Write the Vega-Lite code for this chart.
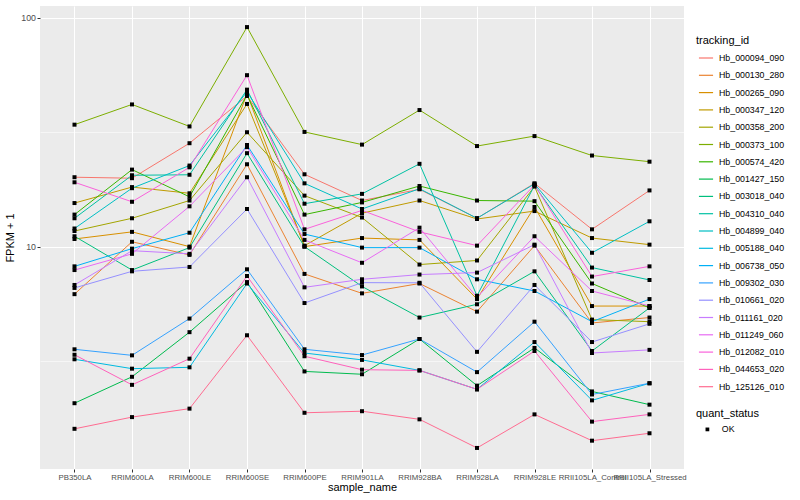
{
"$schema": "https://vega.github.io/schema/vega-lite/v6.json",
"width": 644, "height": 463,
"autosize": {"type": "none"},
"padding": {"left": 40, "top": 6, "right": 116, "bottom": 31},
"background": "white",
"config": {
  "view": {"fill": "#EBEBEB", "stroke": null},
  "font": "Liberation Sans",
  "axis": {"domain": false, "grid": true, "gridColor": "white", "labelFontSize": 8.8, "labelColor": "#4D4D4D", "tickColor": "#333333", "tickSize": 3, "labelPadding": 1.5, "titleFontSize": 11, "titleFontWeight": "normal", "titleColor": "black"},
  "legend": {"padding": 0, "titleFontSize": 11, "titleFontWeight": "normal", "titleColor": "black", "labelFontSize": 8.8, "labelColor": "black"}
},
"data": {"values": [
{"tracking_id":"Hb_000094_090","sample_name":"PB350LA","FPKM":20.1,"quant_status":"OK"},
{"tracking_id":"Hb_000094_090","sample_name":"RRIM600LA","FPKM":19.9,"quant_status":"OK"},
{"tracking_id":"Hb_000094_090","sample_name":"RRIM600LE","FPKM":28.3,"quant_status":"OK"},
{"tracking_id":"Hb_000094_090","sample_name":"RRIM600SE","FPKM":45.5,"quant_status":"OK"},
{"tracking_id":"Hb_000094_090","sample_name":"RRIM600PE","FPKM":20.7,"quant_status":"OK"},
{"tracking_id":"Hb_000094_090","sample_name":"RRIM901LA","FPKM":15.9,"quant_status":"OK"},
{"tracking_id":"Hb_000094_090","sample_name":"RRIM928BA","FPKM":17.8,"quant_status":"OK"},
{"tracking_id":"Hb_000094_090","sample_name":"RRIM928LA","FPKM":13.3,"quant_status":"OK"},
{"tracking_id":"Hb_000094_090","sample_name":"RRIM928LE","FPKM":18.9,"quant_status":"OK"},
{"tracking_id":"Hb_000094_090","sample_name":"RRII105LA_Control","FPKM":11.9,"quant_status":"OK"},
{"tracking_id":"Hb_000094_090","sample_name":"RRII105LA_Stressed","FPKM":17.6,"quant_status":"OK"},
{"tracking_id":"Hb_000130_280","sample_name":"PB350LA","FPKM":6.2,"quant_status":"OK"},
{"tracking_id":"Hb_000130_280","sample_name":"RRIM600LA","FPKM":10.5,"quant_status":"OK"},
{"tracking_id":"Hb_000130_280","sample_name":"RRIM600LE","FPKM":9.2,"quant_status":"OK"},
{"tracking_id":"Hb_000130_280","sample_name":"RRIM600SE","FPKM":22.9,"quant_status":"OK"},
{"tracking_id":"Hb_000130_280","sample_name":"RRIM600PE","FPKM":7.6,"quant_status":"OK"},
{"tracking_id":"Hb_000130_280","sample_name":"RRIM901LA","FPKM":6.25,"quant_status":"OK"},
{"tracking_id":"Hb_000130_280","sample_name":"RRIM928BA","FPKM":6.9,"quant_status":"OK"},
{"tracking_id":"Hb_000130_280","sample_name":"RRIM928LA","FPKM":5.2,"quant_status":"OK"},
{"tracking_id":"Hb_000130_280","sample_name":"RRIM928LE","FPKM":10.1,"quant_status":"OK"},
{"tracking_id":"Hb_000130_280","sample_name":"RRII105LA_Control","FPKM":4.64,"quant_status":"OK"},
{"tracking_id":"Hb_000130_280","sample_name":"RRII105LA_Stressed","FPKM":4.9,"quant_status":"OK"},
{"tracking_id":"Hb_000265_090","sample_name":"PB350LA","FPKM":10.8,"quant_status":"OK"},
{"tracking_id":"Hb_000265_090","sample_name":"RRIM600LA","FPKM":11.6,"quant_status":"OK"},
{"tracking_id":"Hb_000265_090","sample_name":"RRIM600LE","FPKM":10.0,"quant_status":"OK"},
{"tracking_id":"Hb_000265_090","sample_name":"RRIM600SE","FPKM":46.5,"quant_status":"OK"},
{"tracking_id":"Hb_000265_090","sample_name":"RRIM600PE","FPKM":10.0,"quant_status":"OK"},
{"tracking_id":"Hb_000265_090","sample_name":"RRIM901LA","FPKM":10.9,"quant_status":"OK"},
{"tracking_id":"Hb_000265_090","sample_name":"RRIM928BA","FPKM":10.7,"quant_status":"OK"},
{"tracking_id":"Hb_000265_090","sample_name":"RRIM928LA","FPKM":5.9,"quant_status":"OK"},
{"tracking_id":"Hb_000265_090","sample_name":"RRIM928LE","FPKM":14.9,"quant_status":"OK"},
{"tracking_id":"Hb_000265_090","sample_name":"RRII105LA_Control","FPKM":5.5,"quant_status":"OK"},
{"tracking_id":"Hb_000265_090","sample_name":"RRII105LA_Stressed","FPKM":5.5,"quant_status":"OK"},
{"tracking_id":"Hb_000347_120","sample_name":"PB350LA","FPKM":15.5,"quant_status":"OK"},
{"tracking_id":"Hb_000347_120","sample_name":"RRIM600LA","FPKM":18.2,"quant_status":"OK"},
{"tracking_id":"Hb_000347_120","sample_name":"RRIM600LE","FPKM":17.1,"quant_status":"OK"},
{"tracking_id":"Hb_000347_120","sample_name":"RRIM600SE","FPKM":42.0,"quant_status":"OK"},
{"tracking_id":"Hb_000347_120","sample_name":"RRIM600PE","FPKM":10.1,"quant_status":"OK"},
{"tracking_id":"Hb_000347_120","sample_name":"RRIM901LA","FPKM":14.0,"quant_status":"OK"},
{"tracking_id":"Hb_000347_120","sample_name":"RRIM928BA","FPKM":15.9,"quant_status":"OK"},
{"tracking_id":"Hb_000347_120","sample_name":"RRIM928LA","FPKM":13.2,"quant_status":"OK"},
{"tracking_id":"Hb_000347_120","sample_name":"RRIM928LE","FPKM":14.3,"quant_status":"OK"},
{"tracking_id":"Hb_000347_120","sample_name":"RRII105LA_Control","FPKM":10.9,"quant_status":"OK"},
{"tracking_id":"Hb_000347_120","sample_name":"RRII105LA_Stressed","FPKM":10.2,"quant_status":"OK"},
{"tracking_id":"Hb_000358_200","sample_name":"PB350LA","FPKM":11.7,"quant_status":"OK"},
{"tracking_id":"Hb_000358_200","sample_name":"RRIM600LA","FPKM":13.3,"quant_status":"OK"},
{"tracking_id":"Hb_000358_200","sample_name":"RRIM600LE","FPKM":15.9,"quant_status":"OK"},
{"tracking_id":"Hb_000358_200","sample_name":"RRIM600SE","FPKM":31.6,"quant_status":"OK"},
{"tracking_id":"Hb_000358_200","sample_name":"RRIM600PE","FPKM":16.7,"quant_status":"OK"},
{"tracking_id":"Hb_000358_200","sample_name":"RRIM901LA","FPKM":13.4,"quant_status":"OK"},
{"tracking_id":"Hb_000358_200","sample_name":"RRIM928BA","FPKM":8.35,"quant_status":"OK"},
{"tracking_id":"Hb_000358_200","sample_name":"RRIM928LA","FPKM":8.7,"quant_status":"OK"},
{"tracking_id":"Hb_000358_200","sample_name":"RRIM928LE","FPKM":18.3,"quant_status":"OK"},
{"tracking_id":"Hb_000358_200","sample_name":"RRII105LA_Control","FPKM":4.8,"quant_status":"OK"},
{"tracking_id":"Hb_000358_200","sample_name":"RRII105LA_Stressed","FPKM":4.7,"quant_status":"OK"},
{"tracking_id":"Hb_000373_100","sample_name":"PB350LA","FPKM":34.1,"quant_status":"OK"},
{"tracking_id":"Hb_000373_100","sample_name":"RRIM600LA","FPKM":41.8,"quant_status":"OK"},
{"tracking_id":"Hb_000373_100","sample_name":"RRIM600LE","FPKM":33.5,"quant_status":"OK"},
{"tracking_id":"Hb_000373_100","sample_name":"RRIM600SE","FPKM":91.0,"quant_status":"OK"},
{"tracking_id":"Hb_000373_100","sample_name":"RRIM600PE","FPKM":31.7,"quant_status":"OK"},
{"tracking_id":"Hb_000373_100","sample_name":"RRIM901LA","FPKM":27.9,"quant_status":"OK"},
{"tracking_id":"Hb_000373_100","sample_name":"RRIM928BA","FPKM":39.5,"quant_status":"OK"},
{"tracking_id":"Hb_000373_100","sample_name":"RRIM928LA","FPKM":27.5,"quant_status":"OK"},
{"tracking_id":"Hb_000373_100","sample_name":"RRIM928LE","FPKM":30.4,"quant_status":"OK"},
{"tracking_id":"Hb_000373_100","sample_name":"RRII105LA_Control","FPKM":25.0,"quant_status":"OK"},
{"tracking_id":"Hb_000373_100","sample_name":"RRII105LA_Stressed","FPKM":23.5,"quant_status":"OK"},
{"tracking_id":"Hb_000574_420","sample_name":"PB350LA","FPKM":13.8,"quant_status":"OK"},
{"tracking_id":"Hb_000574_420","sample_name":"RRIM600LA","FPKM":21.7,"quant_status":"OK"},
{"tracking_id":"Hb_000574_420","sample_name":"RRIM600LE","FPKM":16.5,"quant_status":"OK"},
{"tracking_id":"Hb_000574_420","sample_name":"RRIM600SE","FPKM":46.0,"quant_status":"OK"},
{"tracking_id":"Hb_000574_420","sample_name":"RRIM600PE","FPKM":13.8,"quant_status":"OK"},
{"tracking_id":"Hb_000574_420","sample_name":"RRIM901LA","FPKM":15.6,"quant_status":"OK"},
{"tracking_id":"Hb_000574_420","sample_name":"RRIM928BA","FPKM":18.4,"quant_status":"OK"},
{"tracking_id":"Hb_000574_420","sample_name":"RRIM928LA","FPKM":15.9,"quant_status":"OK"},
{"tracking_id":"Hb_000574_420","sample_name":"RRIM928LE","FPKM":15.8,"quant_status":"OK"},
{"tracking_id":"Hb_000574_420","sample_name":"RRII105LA_Control","FPKM":6.9,"quant_status":"OK"},
{"tracking_id":"Hb_000574_420","sample_name":"RRII105LA_Stressed","FPKM":5.4,"quant_status":"OK"},
{"tracking_id":"Hb_001427_150","sample_name":"PB350LA","FPKM":2.07,"quant_status":"OK"},
{"tracking_id":"Hb_001427_150","sample_name":"RRIM600LA","FPKM":2.70,"quant_status":"OK"},
{"tracking_id":"Hb_001427_150","sample_name":"RRIM600LE","FPKM":4.23,"quant_status":"OK"},
{"tracking_id":"Hb_001427_150","sample_name":"RRIM600SE","FPKM":7.0,"quant_status":"OK"},
{"tracking_id":"Hb_001427_150","sample_name":"RRIM600PE","FPKM":2.85,"quant_status":"OK"},
{"tracking_id":"Hb_001427_150","sample_name":"RRIM901LA","FPKM":2.77,"quant_status":"OK"},
{"tracking_id":"Hb_001427_150","sample_name":"RRIM928BA","FPKM":3.95,"quant_status":"OK"},
{"tracking_id":"Hb_001427_150","sample_name":"RRIM928LA","FPKM":2.47,"quant_status":"OK"},
{"tracking_id":"Hb_001427_150","sample_name":"RRIM928LE","FPKM":3.61,"quant_status":"OK"},
{"tracking_id":"Hb_001427_150","sample_name":"RRII105LA_Control","FPKM":2.33,"quant_status":"OK"},
{"tracking_id":"Hb_001427_150","sample_name":"RRII105LA_Stressed","FPKM":2.04,"quant_status":"OK"},
{"tracking_id":"Hb_003018_040","sample_name":"PB350LA","FPKM":11.1,"quant_status":"OK"},
{"tracking_id":"Hb_003018_040","sample_name":"RRIM600LA","FPKM":7.9,"quant_status":"OK"},
{"tracking_id":"Hb_003018_040","sample_name":"RRIM600LE","FPKM":9.9,"quant_status":"OK"},
{"tracking_id":"Hb_003018_040","sample_name":"RRIM600SE","FPKM":25.6,"quant_status":"OK"},
{"tracking_id":"Hb_003018_040","sample_name":"RRIM600PE","FPKM":10.0,"quant_status":"OK"},
{"tracking_id":"Hb_003018_040","sample_name":"RRIM901LA","FPKM":6.7,"quant_status":"OK"},
{"tracking_id":"Hb_003018_040","sample_name":"RRIM928BA","FPKM":4.9,"quant_status":"OK"},
{"tracking_id":"Hb_003018_040","sample_name":"RRIM928LA","FPKM":5.6,"quant_status":"OK"},
{"tracking_id":"Hb_003018_040","sample_name":"RRIM928LE","FPKM":7.8,"quant_status":"OK"},
{"tracking_id":"Hb_003018_040","sample_name":"RRII105LA_Control","FPKM":3.5,"quant_status":"OK"},
{"tracking_id":"Hb_003018_040","sample_name":"RRII105LA_Stressed","FPKM":5.4,"quant_status":"OK"},
{"tracking_id":"Hb_004310_040","sample_name":"PB350LA","FPKM":13.3,"quant_status":"OK"},
{"tracking_id":"Hb_004310_040","sample_name":"RRIM600LA","FPKM":20.5,"quant_status":"OK"},
{"tracking_id":"Hb_004310_040","sample_name":"RRIM600LE","FPKM":20.6,"quant_status":"OK"},
{"tracking_id":"Hb_004310_040","sample_name":"RRIM600SE","FPKM":48.5,"quant_status":"OK"},
{"tracking_id":"Hb_004310_040","sample_name":"RRIM600PE","FPKM":15.4,"quant_status":"OK"},
{"tracking_id":"Hb_004310_040","sample_name":"RRIM901LA","FPKM":17.0,"quant_status":"OK"},
{"tracking_id":"Hb_004310_040","sample_name":"RRIM928BA","FPKM":23.0,"quant_status":"OK"},
{"tracking_id":"Hb_004310_040","sample_name":"RRIM928LA","FPKM":6.1,"quant_status":"OK"},
{"tracking_id":"Hb_004310_040","sample_name":"RRIM928LE","FPKM":18.5,"quant_status":"OK"},
{"tracking_id":"Hb_004310_040","sample_name":"RRII105LA_Control","FPKM":8.1,"quant_status":"OK"},
{"tracking_id":"Hb_004310_040","sample_name":"RRII105LA_Stressed","FPKM":7.15,"quant_status":"OK"},
{"tracking_id":"Hb_004899_040","sample_name":"PB350LA","FPKM":12.0,"quant_status":"OK"},
{"tracking_id":"Hb_004899_040","sample_name":"RRIM600LA","FPKM":18.0,"quant_status":"OK"},
{"tracking_id":"Hb_004899_040","sample_name":"RRIM600LE","FPKM":22.6,"quant_status":"OK"},
{"tracking_id":"Hb_004899_040","sample_name":"RRIM600SE","FPKM":47.5,"quant_status":"OK"},
{"tracking_id":"Hb_004899_040","sample_name":"RRIM600PE","FPKM":18.9,"quant_status":"OK"},
{"tracking_id":"Hb_004899_040","sample_name":"RRIM901LA","FPKM":14.6,"quant_status":"OK"},
{"tracking_id":"Hb_004899_040","sample_name":"RRIM928BA","FPKM":17.9,"quant_status":"OK"},
{"tracking_id":"Hb_004899_040","sample_name":"RRIM928LA","FPKM":13.3,"quant_status":"OK"},
{"tracking_id":"Hb_004899_040","sample_name":"RRIM928LE","FPKM":18.8,"quant_status":"OK"},
{"tracking_id":"Hb_004899_040","sample_name":"RRII105LA_Control","FPKM":9.4,"quant_status":"OK"},
{"tracking_id":"Hb_004899_040","sample_name":"RRII105LA_Stressed","FPKM":12.9,"quant_status":"OK"},
{"tracking_id":"Hb_005188_040","sample_name":"PB350LA","FPKM":3.22,"quant_status":"OK"},
{"tracking_id":"Hb_005188_040","sample_name":"RRIM600LA","FPKM":2.93,"quant_status":"OK"},
{"tracking_id":"Hb_005188_040","sample_name":"RRIM600LE","FPKM":2.97,"quant_status":"OK"},
{"tracking_id":"Hb_005188_040","sample_name":"RRIM600SE","FPKM":6.9,"quant_status":"OK"},
{"tracking_id":"Hb_005188_040","sample_name":"RRIM600PE","FPKM":3.43,"quant_status":"OK"},
{"tracking_id":"Hb_005188_040","sample_name":"RRIM901LA","FPKM":3.20,"quant_status":"OK"},
{"tracking_id":"Hb_005188_040","sample_name":"RRIM928BA","FPKM":2.88,"quant_status":"OK"},
{"tracking_id":"Hb_005188_040","sample_name":"RRIM928LA","FPKM":2.38,"quant_status":"OK"},
{"tracking_id":"Hb_005188_040","sample_name":"RRIM928LE","FPKM":3.83,"quant_status":"OK"},
{"tracking_id":"Hb_005188_040","sample_name":"RRII105LA_Control","FPKM":2.13,"quant_status":"OK"},
{"tracking_id":"Hb_005188_040","sample_name":"RRII105LA_Stressed","FPKM":2.53,"quant_status":"OK"},
{"tracking_id":"Hb_006738_050","sample_name":"PB350LA","FPKM":8.2,"quant_status":"OK"},
{"tracking_id":"Hb_006738_050","sample_name":"RRIM600LA","FPKM":9.8,"quant_status":"OK"},
{"tracking_id":"Hb_006738_050","sample_name":"RRIM600LE","FPKM":11.5,"quant_status":"OK"},
{"tracking_id":"Hb_006738_050","sample_name":"RRIM600SE","FPKM":27.8,"quant_status":"OK"},
{"tracking_id":"Hb_006738_050","sample_name":"RRIM600PE","FPKM":11.35,"quant_status":"OK"},
{"tracking_id":"Hb_006738_050","sample_name":"RRIM901LA","FPKM":9.9,"quant_status":"OK"},
{"tracking_id":"Hb_006738_050","sample_name":"RRIM928BA","FPKM":9.9,"quant_status":"OK"},
{"tracking_id":"Hb_006738_050","sample_name":"RRIM928LA","FPKM":7.2,"quant_status":"OK"},
{"tracking_id":"Hb_006738_050","sample_name":"RRIM928LE","FPKM":6.4,"quant_status":"OK"},
{"tracking_id":"Hb_006738_050","sample_name":"RRII105LA_Control","FPKM":4.7,"quant_status":"OK"},
{"tracking_id":"Hb_006738_050","sample_name":"RRII105LA_Stressed","FPKM":5.9,"quant_status":"OK"},
{"tracking_id":"Hb_009302_030","sample_name":"PB350LA","FPKM":3.56,"quant_status":"OK"},
{"tracking_id":"Hb_009302_030","sample_name":"RRIM600LA","FPKM":3.35,"quant_status":"OK"},
{"tracking_id":"Hb_009302_030","sample_name":"RRIM600LE","FPKM":4.85,"quant_status":"OK"},
{"tracking_id":"Hb_009302_030","sample_name":"RRIM600SE","FPKM":7.96,"quant_status":"OK"},
{"tracking_id":"Hb_009302_030","sample_name":"RRIM600PE","FPKM":3.56,"quant_status":"OK"},
{"tracking_id":"Hb_009302_030","sample_name":"RRIM901LA","FPKM":3.36,"quant_status":"OK"},
{"tracking_id":"Hb_009302_030","sample_name":"RRIM928BA","FPKM":3.95,"quant_status":"OK"},
{"tracking_id":"Hb_009302_030","sample_name":"RRIM928LA","FPKM":2.83,"quant_status":"OK"},
{"tracking_id":"Hb_009302_030","sample_name":"RRIM928LE","FPKM":4.70,"quant_status":"OK"},
{"tracking_id":"Hb_009302_030","sample_name":"RRII105LA_Control","FPKM":2.26,"quant_status":"OK"},
{"tracking_id":"Hb_009302_030","sample_name":"RRII105LA_Stressed","FPKM":2.53,"quant_status":"OK"},
{"tracking_id":"Hb_010661_020","sample_name":"PB350LA","FPKM":6.6,"quant_status":"OK"},
{"tracking_id":"Hb_010661_020","sample_name":"RRIM600LA","FPKM":7.8,"quant_status":"OK"},
{"tracking_id":"Hb_010661_020","sample_name":"RRIM600LE","FPKM":8.15,"quant_status":"OK"},
{"tracking_id":"Hb_010661_020","sample_name":"RRIM600SE","FPKM":14.6,"quant_status":"OK"},
{"tracking_id":"Hb_010661_020","sample_name":"RRIM600PE","FPKM":5.67,"quant_status":"OK"},
{"tracking_id":"Hb_010661_020","sample_name":"RRIM901LA","FPKM":6.96,"quant_status":"OK"},
{"tracking_id":"Hb_010661_020","sample_name":"RRIM928BA","FPKM":6.95,"quant_status":"OK"},
{"tracking_id":"Hb_010661_020","sample_name":"RRIM928LA","FPKM":3.47,"quant_status":"OK"},
{"tracking_id":"Hb_010661_020","sample_name":"RRIM928LE","FPKM":6.8,"quant_status":"OK"},
{"tracking_id":"Hb_010661_020","sample_name":"RRII105LA_Control","FPKM":3.83,"quant_status":"OK"},
{"tracking_id":"Hb_010661_020","sample_name":"RRII105LA_Stressed","FPKM":4.6,"quant_status":"OK"},
{"tracking_id":"Hb_011161_020","sample_name":"PB350LA","FPKM":6.8,"quant_status":"OK"},
{"tracking_id":"Hb_011161_020","sample_name":"RRIM600LA","FPKM":9.6,"quant_status":"OK"},
{"tracking_id":"Hb_011161_020","sample_name":"RRIM600LE","FPKM":9.3,"quant_status":"OK"},
{"tracking_id":"Hb_011161_020","sample_name":"RRIM600SE","FPKM":20.1,"quant_status":"OK"},
{"tracking_id":"Hb_011161_020","sample_name":"RRIM600PE","FPKM":6.64,"quant_status":"OK"},
{"tracking_id":"Hb_011161_020","sample_name":"RRIM901LA","FPKM":7.2,"quant_status":"OK"},
{"tracking_id":"Hb_011161_020","sample_name":"RRIM928BA","FPKM":7.55,"quant_status":"OK"},
{"tracking_id":"Hb_011161_020","sample_name":"RRIM928LA","FPKM":7.7,"quant_status":"OK"},
{"tracking_id":"Hb_011161_020","sample_name":"RRIM928LE","FPKM":10.2,"quant_status":"OK"},
{"tracking_id":"Hb_011161_020","sample_name":"RRII105LA_Control","FPKM":3.43,"quant_status":"OK"},
{"tracking_id":"Hb_011161_020","sample_name":"RRII105LA_Stressed","FPKM":3.54,"quant_status":"OK"},
{"tracking_id":"Hb_011249_060","sample_name":"PB350LA","FPKM":7.9,"quant_status":"OK"},
{"tracking_id":"Hb_011249_060","sample_name":"RRIM600LA","FPKM":9.3,"quant_status":"OK"},
{"tracking_id":"Hb_011249_060","sample_name":"RRIM600LE","FPKM":15.0,"quant_status":"OK"},
{"tracking_id":"Hb_011249_060","sample_name":"RRIM600SE","FPKM":27.2,"quant_status":"OK"},
{"tracking_id":"Hb_011249_060","sample_name":"RRIM600PE","FPKM":10.7,"quant_status":"OK"},
{"tracking_id":"Hb_011249_060","sample_name":"RRIM901LA","FPKM":8.5,"quant_status":"OK"},
{"tracking_id":"Hb_011249_060","sample_name":"RRIM928BA","FPKM":12.1,"quant_status":"OK"},
{"tracking_id":"Hb_011249_060","sample_name":"RRIM928LA","FPKM":6.0,"quant_status":"OK"},
{"tracking_id":"Hb_011249_060","sample_name":"RRIM928LE","FPKM":11.1,"quant_status":"OK"},
{"tracking_id":"Hb_011249_060","sample_name":"RRII105LA_Control","FPKM":6.4,"quant_status":"OK"},
{"tracking_id":"Hb_011249_060","sample_name":"RRII105LA_Stressed","FPKM":5.5,"quant_status":"OK"},
{"tracking_id":"Hb_012082_010","sample_name":"PB350LA","FPKM":19.1,"quant_status":"OK"},
{"tracking_id":"Hb_012082_010","sample_name":"RRIM600LA","FPKM":15.7,"quant_status":"OK"},
{"tracking_id":"Hb_012082_010","sample_name":"RRIM600LE","FPKM":22.2,"quant_status":"OK"},
{"tracking_id":"Hb_012082_010","sample_name":"RRIM600SE","FPKM":56.1,"quant_status":"OK"},
{"tracking_id":"Hb_012082_010","sample_name":"RRIM600PE","FPKM":11.9,"quant_status":"OK"},
{"tracking_id":"Hb_012082_010","sample_name":"RRIM901LA","FPKM":14.4,"quant_status":"OK"},
{"tracking_id":"Hb_012082_010","sample_name":"RRIM928BA","FPKM":11.6,"quant_status":"OK"},
{"tracking_id":"Hb_012082_010","sample_name":"RRIM928LA","FPKM":10.1,"quant_status":"OK"},
{"tracking_id":"Hb_012082_010","sample_name":"RRIM928LE","FPKM":18.6,"quant_status":"OK"},
{"tracking_id":"Hb_012082_010","sample_name":"RRII105LA_Control","FPKM":7.4,"quant_status":"OK"},
{"tracking_id":"Hb_012082_010","sample_name":"RRII105LA_Stressed","FPKM":8.2,"quant_status":"OK"},
{"tracking_id":"Hb_044653_020","sample_name":"PB350LA","FPKM":3.37,"quant_status":"OK"},
{"tracking_id":"Hb_044653_020","sample_name":"RRIM600LA","FPKM":2.49,"quant_status":"OK"},
{"tracking_id":"Hb_044653_020","sample_name":"RRIM600LE","FPKM":3.24,"quant_status":"OK"},
{"tracking_id":"Hb_044653_020","sample_name":"RRIM600SE","FPKM":7.44,"quant_status":"OK"},
{"tracking_id":"Hb_044653_020","sample_name":"RRIM600PE","FPKM":3.32,"quant_status":"OK"},
{"tracking_id":"Hb_044653_020","sample_name":"RRIM901LA","FPKM":2.90,"quant_status":"OK"},
{"tracking_id":"Hb_044653_020","sample_name":"RRIM928BA","FPKM":2.88,"quant_status":"OK"},
{"tracking_id":"Hb_044653_020","sample_name":"RRIM928LA","FPKM":2.38,"quant_status":"OK"},
{"tracking_id":"Hb_044653_020","sample_name":"RRIM928LE","FPKM":3.50,"quant_status":"OK"},
{"tracking_id":"Hb_044653_020","sample_name":"RRII105LA_Control","FPKM":1.72,"quant_status":"OK"},
{"tracking_id":"Hb_044653_020","sample_name":"RRII105LA_Stressed","FPKM":1.85,"quant_status":"OK"},
{"tracking_id":"Hb_125126_010","sample_name":"PB350LA","FPKM":1.60,"quant_status":"OK"},
{"tracking_id":"Hb_125126_010","sample_name":"RRIM600LA","FPKM":1.80,"quant_status":"OK"},
{"tracking_id":"Hb_125126_010","sample_name":"RRIM600LE","FPKM":1.96,"quant_status":"OK"},
{"tracking_id":"Hb_125126_010","sample_name":"RRIM600SE","FPKM":4.10,"quant_status":"OK"},
{"tracking_id":"Hb_125126_010","sample_name":"RRIM600PE","FPKM":1.88,"quant_status":"OK"},
{"tracking_id":"Hb_125126_010","sample_name":"RRIM901LA","FPKM":1.91,"quant_status":"OK"},
{"tracking_id":"Hb_125126_010","sample_name":"RRIM928BA","FPKM":1.76,"quant_status":"OK"},
{"tracking_id":"Hb_125126_010","sample_name":"RRIM928LA","FPKM":1.32,"quant_status":"OK"},
{"tracking_id":"Hb_125126_010","sample_name":"RRIM928LE","FPKM":1.85,"quant_status":"OK"},
{"tracking_id":"Hb_125126_010","sample_name":"RRII105LA_Control","FPKM":1.42,"quant_status":"OK"},
{"tracking_id":"Hb_125126_010","sample_name":"RRII105LA_Stressed","FPKM":1.53,"quant_status":"OK"}
]},
"encoding": {
  "x": {"field": "sample_name", "type": "nominal",
        "sort": ["PB350LA","RRIM600LA","RRIM600LE","RRIM600SE","RRIM600PE","RRIM901LA","RRIM928BA","RRIM928LA","RRIM928LE","RRII105LA_Control","RRII105LA_Stressed"],
        "scale": {"type": "point", "padding": 0.6},
        "axis": {"title": "sample_name", "labelAngle": 0, "labelOverlap": false, "labelFontSize": 7.8, "labelPadding": 1.5, "titlePadding": 0}},
  "y": {"field": "FPKM", "type": "quantitative",
        "scale": {"type": "log", "domain": [1.068, 112.5], "nice": false, "zero": false},
        "axis": {"title": "FPKM + 1", "values": [3.1623, 10, 31.623, 100],
                 "labelExpr": "(datum.value == 10 || datum.value == 100) ? format(datum.value, 'd') : ''",
                 "gridWidth": {"condition": {"test": "datum.value == 10 || datum.value == 100", "value": 1.1}, "value": 0.55},
                 "tickOpacity": {"condition": {"test": "datum.value == 10 || datum.value == 100", "value": 1}, "value": 0},
                 "titlePadding": 5}}
},
"layer": [
  {"mark": {"type": "line", "strokeWidth": 1},
   "encoding": {
     "order": {"value": null},
     "color": {"field": "tracking_id", "type": "nominal",
       "scale": {"domain": ["Hb_000094_090","Hb_000130_280","Hb_000265_090","Hb_000347_120","Hb_000358_200","Hb_000373_100","Hb_000574_420","Hb_001427_150","Hb_003018_040","Hb_004310_040","Hb_004899_040","Hb_005188_040","Hb_006738_050","Hb_009302_030","Hb_010661_020","Hb_011161_020","Hb_011249_060","Hb_012082_010","Hb_044653_020","Hb_125126_010"],
                 "range": ["#F8766D","#EA8331","#D89000","#C09B00","#A3A500","#7CAE00","#39B600","#00BB4E","#00BF7D","#00C1A3","#00BFC4","#00BAE0","#00B0F6","#35A2FF","#9590FF","#C77CFF","#E76BF3","#FA62DB","#FF62BC","#FF6C91"]},
       "legend": {"title": "tracking_id", "orient": "none", "legendX": 656, "legendY": 29, "symbolType": "stroke", "symbolSize": 200, "symbolStrokeWidth": 1.2, "rowPadding": 4.3, "labelOffset": 5, "symbolOffset": 2, "titlePadding": 4}}
   }},
  {"mark": {"type": "point", "filled": true, "color": "black", "size": 16, "opacity": 1},
   "encoding": {
     "shape": {"field": "quant_status", "type": "nominal",
       "scale": {"domain": ["OK"], "range": ["square"]},
       "legend": {"title": "quant_status", "orient": "none", "legendX": 656, "legendY": 402, "symbolFillColor": "black", "symbolStrokeColor": "black", "symbolSize": 14, "symbolOffset": 7, "labelOffset": 10, "titlePadding": 6}}
   }}
]
}
